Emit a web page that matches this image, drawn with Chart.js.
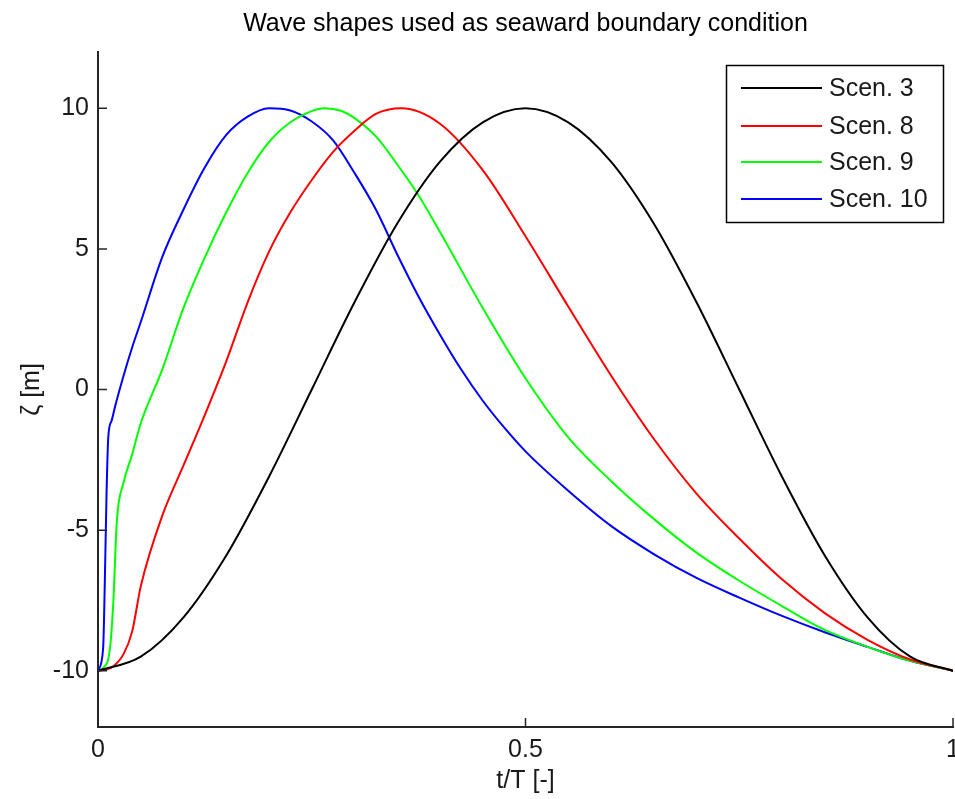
<!DOCTYPE html>
<html>
<head>
<meta charset="utf-8">
<script src="https://cdn.jsdelivr.net/npm/chart.js@4"></script>
<style>
  html, body { margin: 0; padding: 0; background: #fff; }
</style>
</head>
<body>
<canvas id="waveChart" width="955" height="799"></canvas>
<script>
const titleText = "Wave shapes used as seaward boundary condition";
const xTitle = "t/T [-]";
const yTitle = "ζ [m]";
const xTicks = [0, 0.5, 1];
const yTicks = [-10, -5, 0, 5, 10];
const scenLabels = ["Scen. 3", "Scen. 8", "Scen. 9", "Scen. 10"];
const scenColors = ["#000000", "#ff0000", "#00ff00", "#0000ff"];

// values
const tScen3 = [0, 0.05, 0.1, 0.15, 0.2, 0.25, 0.3, 0.35, 0.4, 0.45, 0.5, 0.55, 0.6, 0.65, 0.7, 0.75, 0.8, 0.85, 0.9, 0.95, 1];
const zScen3 = [-10, -9.5, -8.1, -5.9, -3.1, 0, 3.1, 5.9, 8.1, 9.5, 10, 9.5, 8.1, 5.9, 3.1, 0, -3.1, -5.9, -8.1, -9.5, -10];

const tScen8 = [0, 0.015, 0.03, 0.04, 0.05, 0.075, 0.1, 0.125, 0.15, 0.175, 0.2, 0.225, 0.25, 0.275, 0.3, 0.325, 0.355, 0.4, 0.45, 0.5, 0.55, 0.6, 0.65, 0.7, 0.75, 0.8, 0.85, 0.9, 0.95, 1];
const zScen8 = [-10, -9.9, -9.4, -8.6, -7.0, -4.5, -2.7, -0.9, 1.0, 3.1, 4.9, 6.3, 7.45, 8.45, 9.2, 9.8, 10, 9.45, 7.8, 5.45, 2.95, 0.5, -1.75, -3.7, -5.3, -6.75, -7.95, -8.9, -9.6, -10];

const tScen9 = [0, 0.006, 0.014, 0.018, 0.022, 0.03, 0.04, 0.05, 0.075, 0.1, 0.125, 0.15, 0.175, 0.2, 0.225, 0.25, 0.265, 0.285, 0.3, 0.325, 0.35, 0.375, 0.4, 0.45, 0.5, 0.55, 0.6, 0.65, 0.7, 0.75, 0.8, 0.85, 0.9, 0.95, 1];
const zScen9 = [-10, -9.9, -9.2, -7.5, -4.7, -3.3, -2.3, -1.2, 0.7, 2.9, 4.7, 6.3, 7.7, 8.8, 9.5, 9.9, 10, 9.9, 9.65, 9.0, 8.0, 6.9, 5.6, 2.9, 0.4, -1.7, -3.25, -4.6, -5.8, -6.8, -7.7, -8.55, -9.15, -9.65, -10];

const tScen10 = [0, 0.006, 0.008, 0.01, 0.012, 0.016, 0.02, 0.03, 0.04, 0.05, 0.075, 0.1, 0.125, 0.15, 0.175, 0.2, 0.225, 0.25, 0.275, 0.3, 0.325, 0.35, 0.375, 0.4, 0.425, 0.45, 0.475, 0.5, 0.55, 0.6, 0.65, 0.7, 0.75, 0.8, 0.85, 0.9, 0.95, 1];
const zScen10 = [-10, -9.2, -6.8, -3.7, -1.7, -1.1, -0.6, 0.5, 1.5, 2.4, 4.7, 6.4, 7.9, 9.05, 9.7, 10, 9.92, 9.53, 8.86, 7.7, 6.4, 4.8, 3.3, 1.95, 0.7, -0.4, -1.35, -2.2, -3.6, -4.85, -5.85, -6.7, -7.4, -8.05, -8.63, -9.15, -9.65, -10];

const allT = [tScen3, tScen8, tScen9, tScen10];
const allZ = [zScen3, zScen8, zScen9, zScen10];

Chart.defaults.font.family = "'Liberation Sans', Arial, sans-serif";
Chart.defaults.color = "#000";

const fontSize = 25;
const axisColor = "#262626";

function makeDataset(i) {
  return {
    label: scenLabels[i],
    data: allT[i].map((t, k) => ({ x: t, y: allZ[i][k] })),
    borderColor: scenColors[i],
    backgroundColor: scenColors[i],
    borderWidth: 2,
    pointRadius: 0,
    showLine: true,
    cubicInterpolationMode: "monotone",
    fill: false,
  };
}

// title centered over the plot area, inward ticks and the boxed legend
const matlabDecor = {
  id: "matlabDecor",
  afterDraw(chart) {
    const { ctx, chartArea, scales } = chart;
    ctx.save();

    ctx.fillStyle = "#000";
    ctx.font = fontSize + "px 'Liberation Sans', Arial, sans-serif";
    ctx.textAlign = "center";
    ctx.textBaseline = "middle";
    ctx.fillText(titleText, (chartArea.left + chartArea.right) / 2, 24);

    ctx.strokeStyle = axisColor;
    ctx.lineWidth = 1.5;
    ctx.beginPath();
    yTicks.forEach((v) => {
      const y = scales.y.getPixelForValue(v);
      ctx.moveTo(chartArea.left, y);
      ctx.lineTo(chartArea.left + 9, y);
    });
    xTicks.forEach((v) => {
      const x = scales.x.getPixelForValue(v);
      ctx.moveTo(x, chartArea.bottom);
      ctx.lineTo(x, chartArea.bottom - 9);
    });
    ctx.stroke();

    const box = { x: 726.5, y: 65.5, w: 217, h: 157 };
    ctx.fillStyle = "#fff";
    ctx.fillRect(box.x, box.y, box.w, box.h);
    ctx.strokeStyle = "#000";
    ctx.lineWidth = 1.5;
    ctx.strokeRect(box.x, box.y, box.w, box.h);

    const rows = [88, 126, 162, 199];
    ctx.textAlign = "left";
    chart.data.datasets.forEach((ds, i) => {
      ctx.strokeStyle = ds.borderColor;
      ctx.lineWidth = 2;
      ctx.beginPath();
      ctx.moveTo(741, rows[i]);
      ctx.lineTo(822, rows[i]);
      ctx.stroke();
      ctx.fillStyle = "#1a1a1a";
      ctx.fillText(ds.label, 829, rows[i] + 1);
    });

    ctx.restore();
  },
};

new Chart(document.getElementById("waveChart"), {
  type: "scatter",
  data: {
    datasets: [0, 1, 2, 3].map(makeDataset),
  },
  options: {
    responsive: false,
    animation: false,
    devicePixelRatio: 1,
    layout: { padding: { top: 52, right: 2, bottom: 0, left: 0 } },
    plugins: {
      legend: { display: false },
      tooltip: { enabled: false },
      title: { display: false },
    },
    scales: {
      x: {
        type: "linear",
        min: 0,
        max: 1,
        afterBuildTicks: (scale) => {
          scale.ticks = xTicks.map((v) => ({ value: v }));
        },
        afterFit: (scale) => {
          scale.height = 72;
          scale.paddingLeft = 0;
          scale.paddingRight = 0;
        },
        grid: { display: false, drawTicks: false },
        border: { display: true, color: axisColor, width: 2 },
        ticks: {
          padding: 8,
          maxRotation: 0,
          font: { size: fontSize },
          color: "#1a1a1a",
          callback: (v) => String(v),
        },
        title: {
          display: true,
          text: xTitle,
          font: { size: fontSize },
          color: "#1a1a1a",
          padding: { top: 0, bottom: 3 },
        },
      },
      y: {
        type: "linear",
        min: -12,
        max: 12,
        afterBuildTicks: (scale) => {
          scale.ticks = yTicks.map((v) => ({ value: v }));
        },
        afterFit: (scale) => {
          scale.width = 98;
          scale.paddingTop = 0;
          scale.paddingBottom = 0;
        },
        grid: { display: false, drawTicks: false },
        border: { display: true, color: axisColor, width: 2 },
        ticks: {
          padding: 9,
          font: { size: fontSize },
          color: "#1a1a1a",
          callback: (v) => String(v),
        },
        title: {
          display: true,
          text: yTitle,
          font: { size: fontSize },
          color: "#1a1a1a",
          padding: { top: 17, bottom: 0 },
        },
      },
    },
  },
  plugins: [matlabDecor],
});
</script>
</body>
</html>
